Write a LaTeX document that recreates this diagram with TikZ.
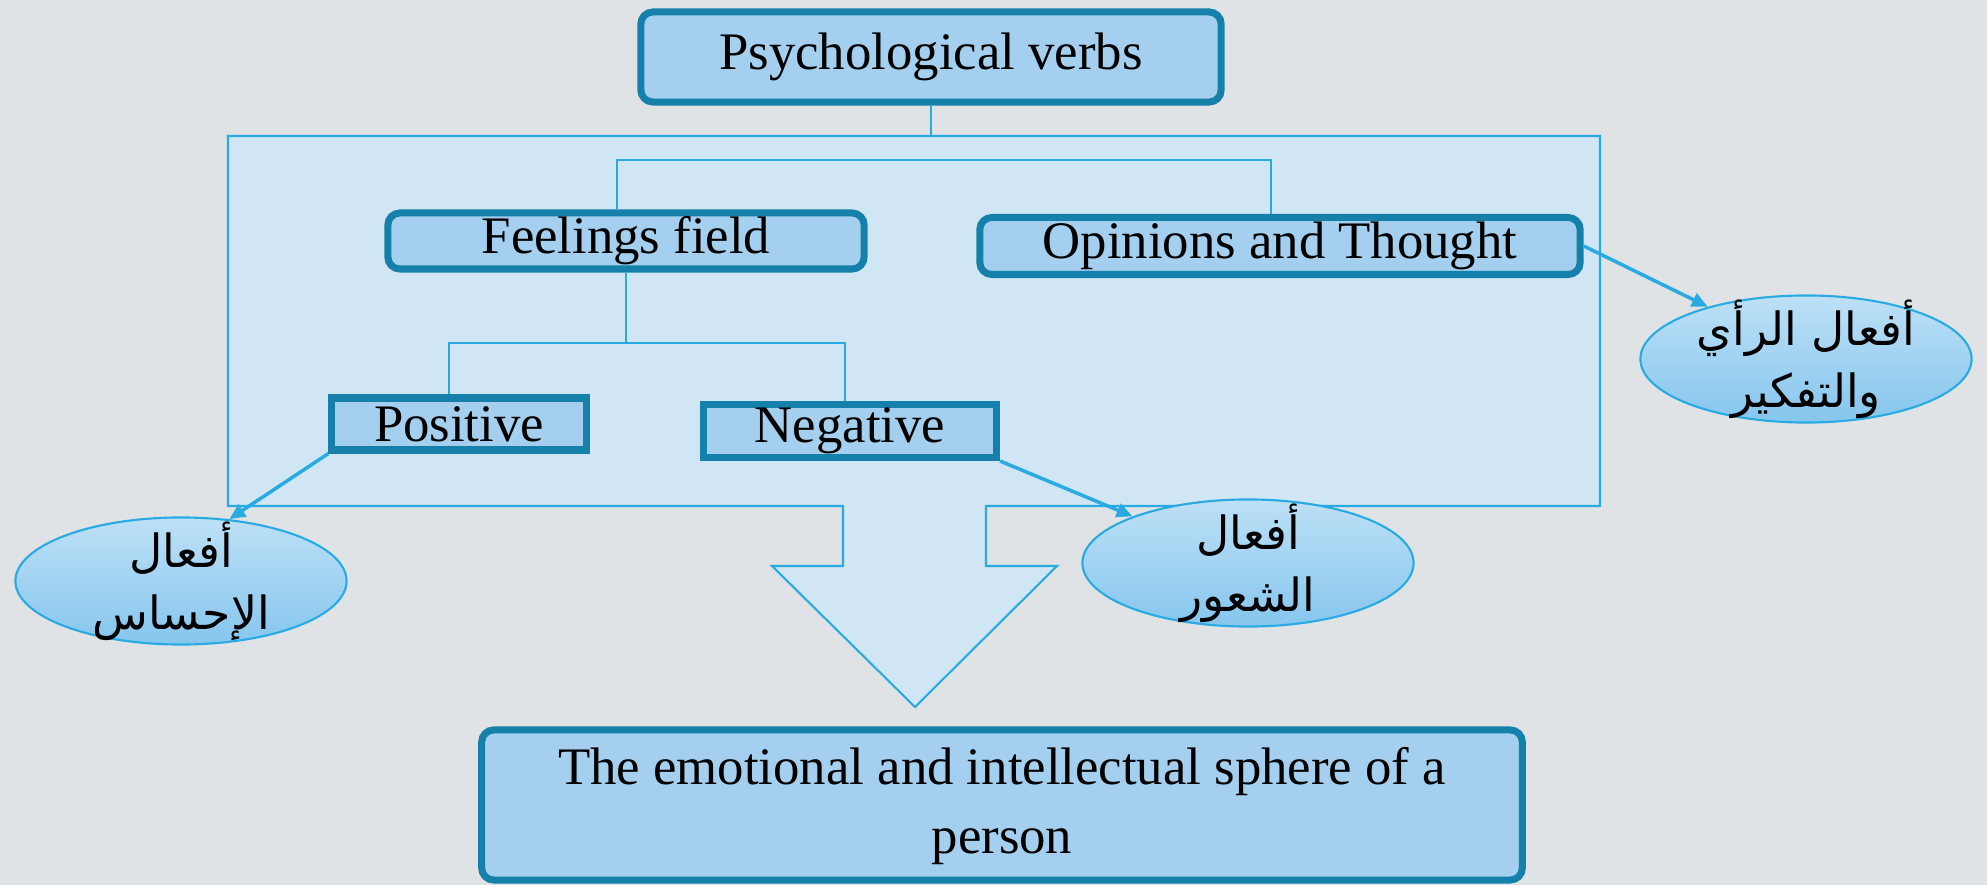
\documentclass[tikz,border=0pt]{standalone}
\usepackage{fontspec}
\setmainfont{Liberation Serif}
\newfontfamily\arabicfont[Script=Arabic]{DejaVu Sans}
\TeXXeTstate=1
\usetikzlibrary{positioning, shapes.geometric, arrows.meta}
\definecolor{bgray}{HTML}{DFE3E6}
\definecolor{panelblue}{HTML}{D1E6F4}
\definecolor{boxblue}{HTML}{A4CFEE}
\definecolor{boxedge}{HTML}{1580A9}
\definecolor{linecyan}{HTML}{29ABE2}
\definecolor{elltop}{HTML}{BDE0F6}
\definecolor{ellbot}{HTML}{86C6EE}

\begin{document}
\begin{tikzpicture}[x=0.01cm, y=-0.01cm,
  box/.style={draw=boxedge, line width=2pt, fill=boxblue, rounded corners=0.12cm,
    inner sep=0pt, align=center, font=\fontsize{15}{19.6}\selectfont},
  sqbox/.style={box, sharp corners},
  verb/.style={ellipse, draw=linecyan, line width=0.6pt, top color=elltop, bottom color=ellbot,
    inner sep=-12pt, minimum width=3.31cm, minimum height=1.27cm, align=center,
    font=\fontsize{13}{17.5}\arabicfont},
  link/.style={draw=linecyan, line width=0.5pt},
  pointer/.style={draw=linecyan, line width=1pt, -{Triangle[length=0.16cm, width=0.14cm]}}]
\fill[bgray] (0,0) rectangle (1987,885);
\useasboundingbox (0,0) rectangle (1987,885);

% panel and big arrow
\draw[linecyan, line width=0.6pt, fill=panelblue] (228,136) -- (1600,136) -- (1600,506)
  -- (986,506) -- (986,566) -- (1057,566) -- (915,707) -- (772,566) -- (843,566)
  -- (843,506) -- (228,506) -- cycle;

\node[box, minimum width=5.8cm, minimum height=0.9cm] (psych) at (931,57) {Psychological verbs};
\node[box, minimum width=4.76cm, minimum height=0.56cm] (feel) at (626,241) {Feelings field};
\node[box, minimum width=6.0cm, minimum height=0.57cm] (opin) at (1280,246) {Opinions and Thought};
\node[sqbox, minimum width=2.54cm, minimum height=0.52cm] (pos) at (459,424) {Positive};
\node[sqbox, minimum width=2.93cm, minimum height=0.53cm] (neg) at (850,431) {Negative};
\node[box, minimum width=10.4cm, minimum height=1.5cm, text depth=0.1cm] (sphere) at (1002,805)
  {The emotional and intellectual sphere of a\\person};

\node[verb] (feelv) at (181,581) {\beginR أفعال\endR\\\beginR الإحساس\endR};
\node[verb] (emov) at (1248,563) {\beginR أفعال\endR\\\beginR الشعور\endR};
\node[verb] (thinkv) at (1806,359) {\beginR أفعال الرأي\endR\\\beginR والتفكير\endR};

\coordinate (ptop) at (psych.south |- 0,136);
\draw[link] (psych) -- (ptop);
\draw[link] ([xshift=-0.09cm]feel.north) -- ([xshift=-0.09cm]feel.north |- 0,160) -| ([xshift=-0.09cm]opin.north);
\draw[link] (feel.south) -- (feel.south |- 0,343) -| ([xshift=-0.1cm]pos.north);
\draw[link] (feel.south |- 0,343) -| ([xshift=-0.05cm]neg.north);

\draw[pointer] (pos.south west) -- (feelv.52);
\draw[pointer] (neg.south east) -- (emov.158);
\draw[pointer] (opin.east) -- (thinkv.152);
\end{tikzpicture}
\end{document}
